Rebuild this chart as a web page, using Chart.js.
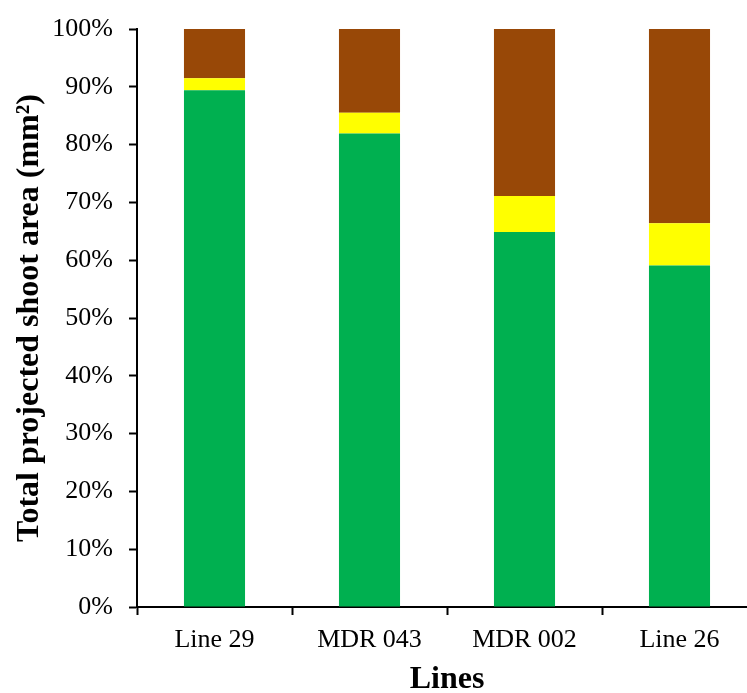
<!DOCTYPE html>
<html><head><meta charset="utf-8">
<script src="https://cdn.jsdelivr.net/npm/chart.js@4/dist/chart.umd.min.js"></script>
<style>html,body{margin:0;padding:0;overflow:hidden;background:#fff;width:747px;height:693px}canvas{display:block}</style>
</head><body>
<canvas id="c" width="760" height="693" style="width:760px;height:693px"></canvas>
<script>
const categories = ["Line 29", "MDR 043", "MDR 002", "Line 26"];
const greenValues = [89.4, 81.9, 64.9, 59.1];
const yellowValues = [2.1, 3.6, 6.2, 7.3];
const brownValues = [8.5, 14.5, 28.9, 33.6];
const yTicks = [0, 10, 20, 30, 40, 50, 60, 70, 80, 90, 100];

const serif = "'Liberation Serif', 'Times New Roman', serif";
new Chart(document.getElementById('c'), {
  type: 'bar',
  data: {
    labels: categories,
    datasets: [
      {label: 'green', data: greenValues, backgroundColor: '#00B050'},
      {label: 'yellow', data: yellowValues, backgroundColor: '#FFFF00'},
      {label: 'brown', data: brownValues, backgroundColor: '#984807'}
    ]
  },
  options: {
    responsive: false,
    animation: false,
    devicePixelRatio: 1,
    layout: {padding: {top: 29, right: 3, left: 0, bottom: 0}},
    datasets: {bar: {barPercentage: 0.394, categoryPercentage: 1, borderWidth: 0}},
    plugins: {legend: {display: false}, tooltip: {enabled: false}},
    scales: {
      x: {
        stacked: true,
        grid: {drawOnChartArea: false, offset: true, tickLength: 8, tickColor: '#000', tickWidth: 2},
        border: {color: '#000', width: 2},
        ticks: {color: '#000', font: {family: serif, size: 26}, padding: 10},
        title: {display: true, text: 'Lines', color: '#000', font: {family: serif, size: 32, weight: 'bold', lineHeight: 0.85}, padding: 0},
        afterFit: s => { s.height = 86; s.paddingLeft = 0; s.paddingRight = 0; }
      },
      y: {
        stacked: true,
        min: 0, max: 100,
        afterBuildTicks: s => { s.ticks = yTicks.map(v => ({value: v})); },
        grid: {drawOnChartArea: false, tickLength: 8, tickColor: '#000', tickWidth: 2},
        border: {color: '#000', width: 2},
        ticks: {color: '#000', font: {family: serif, size: 26}, padding: 16, callback: v => v + '%'},
        title: {display: true, text: 'Total projected shoot area (mm²)', color: '#000', font: {family: serif, size: 32, weight: 'bold', lineHeight: 1.2}, padding: {top: 11, bottom: 0}},
        afterFit: s => { s.width = 137; s.paddingTop = 0; s.paddingBottom = 0; }
      }
    }
  }
});
</script>
</body></html>
